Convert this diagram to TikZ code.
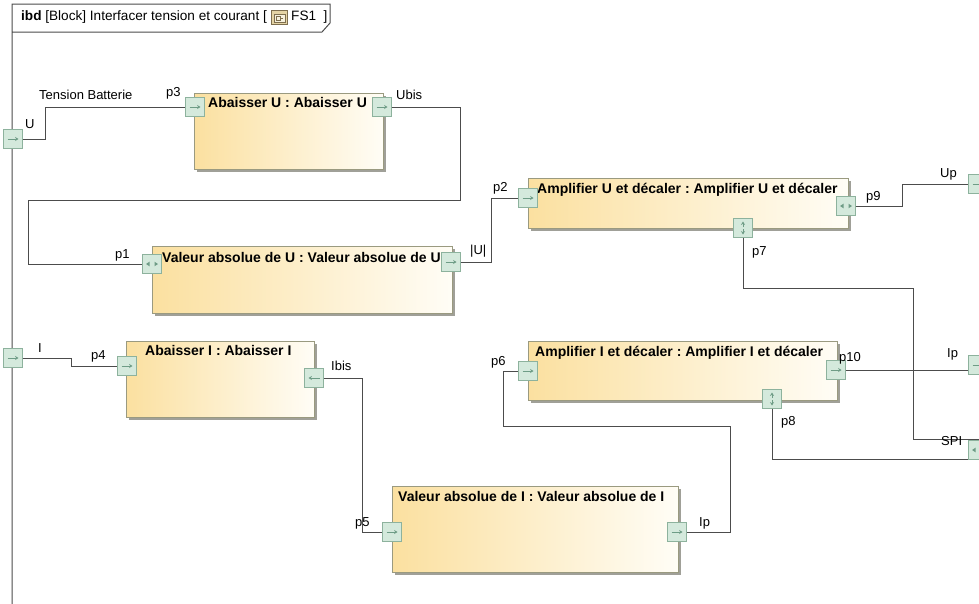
\documentclass[tikz,border=0pt]{standalone}
\usepackage{fontspec}
\setmainfont{Liberation Sans}
\usetikzlibrary{shadows,arrows.meta}
\frenchspacing

\definecolor{wirec}{HTML}{4C4C4C}
\definecolor{blockedge}{HTML}{9A9A80}
\definecolor{blockL}{HTML}{FBE0A0}
\definecolor{blockR}{HTML}{FFFDF6}
\definecolor{shadowc}{HTML}{A0A098}
\definecolor{portfill}{HTML}{D4E9DC}
\definecolor{portedge}{HTML}{8DB29D}
\definecolor{arrowc}{HTML}{6E9C86}
\definecolor{iconout}{HTML}{E4D3A4}
\definecolor{iconin}{HTML}{F6F0DC}
\definecolor{iconln}{HTML}{7E6E4E}

\begin{document}
\begin{tikzpicture}[x=1pt,y=-1pt,
  wire/.style={draw=wirec, line width=1pt},
  framec/.style={draw=wirec, line width=1pt},
  block/.style={draw=blockedge, line width=0.8pt, left color=blockL, right color=blockR,
    drop shadow={shadow xshift=2.5pt, shadow yshift=-2.5pt, fill=shadowc, opacity=1},
    anchor=north west, inner sep=0pt},
  title/.style={font=\fontsize{14}{16}\selectfont\bfseries, inner sep=0pt, anchor=base west},
  lbl/.style={font=\fontsize{13}{15}\selectfont, inner sep=0pt, anchor=base west},
  port/.style={draw=portedge, fill=portfill, line width=0.7pt, minimum size=18.5pt, inner sep=0pt},
  tipa/.style={-{Stealth[length=3.4pt,width=4pt]}, draw=arrowc, line width=0.8pt},
  pr/.style={port, path picture={
    \draw[tipa] ([xshift=-5.5pt]path picture bounding box.center) -- ([xshift=5.5pt]path picture bounding box.center);}},
  pl/.style={port, path picture={
    \draw[tipa] ([xshift=5.5pt]path picture bounding box.center) -- ([xshift=-5.5pt]path picture bounding box.center);}},
  pb/.style={port, path picture={
    \fill[arrowc] ([xshift=-6pt]path picture bounding box.center) -- ([xshift=-2.5pt,yshift=2.3pt]path picture bounding box.center) -- ([xshift=-2.5pt,yshift=-2.3pt]path picture bounding box.center) -- cycle;
    \fill[arrowc] ([xshift=6pt]path picture bounding box.center) -- ([xshift=2.5pt,yshift=2.3pt]path picture bounding box.center) -- ([xshift=2.5pt,yshift=-2.3pt]path picture bounding box.center) -- cycle;}},
  pv/.style={port, path picture={
    \draw[tipa] ([yshift=1pt]path picture bounding box.center) -- ([yshift=6.5pt]path picture bounding box.center);
    \draw[tipa] ([yshift=-1pt]path picture bounding box.center) -- ([yshift=-6.5pt]path picture bounding box.center);}}
]
\useasboundingbox (0,0) rectangle (979,603);
\clip (0,0) rectangle (979,603);
\fill[white] (0,0) rectangle (979,603);

% diagram frame and its heading tab
\draw[framec] (12,606) -- (12,4) -- (330,4) -- (330,23) -- (322,32) -- (12,32);
\node[lbl, font=\fontsize{13.6}{15}\selectfont] (hdr) at (21,20) {\textbf{ibd} [Block] Interfacer tension et courant [};
\filldraw[fill=iconout, draw=iconln, line width=0.6pt] (271,10) rectangle (287,24);
\filldraw[fill=iconin, draw=iconln, line width=0.5pt] (274,14) rectangle (285,22);
\draw[iconln, line width=0.5pt] (276,16) rectangle (280,20) (280,18) -- (283,18);
\node[lbl, font=\fontsize{13.6}{15}\selectfont] (hdrb) at (291,20) {FS1\ \ ]};

% blocks
\node[block, minimum width=189pt, minimum height=76pt] (AbU) at (194,93) {};
\node[block, minimum width=300pt, minimum height=67pt] (VaU) at (152,246) {};
\node[block, minimum width=320pt, minimum height=50pt] (AmU) at (528,178) {};
\node[block, minimum width=309pt, minimum height=59pt] (AmI) at (528,341) {};
\node[block, minimum width=188pt, minimum height=76pt] (AbI) at (126,341) {};
\node[block, minimum width=286pt, minimum height=86pt] (VaI) at (392,486) {};

% block titles
\node[title] (tAbU) at (208,107) {Abaisser U : Abaisser U};
\node[title] (tVaU) at (162,262) {Valeur absolue de U : Valeur absolue de U};
\node[title] (tAmU) at (537,193) {Amplifier U et décaler : Amplifier U et décaler};
\node[title] (tAmI) at (535,356) {Amplifier I et décaler : Amplifier I et décaler};
\node[title] (tAbI) at (145,355) {Abaisser I : Abaisser I};
\node[title] (tVaI) at (398,501) {Valeur absolue de I : Valeur absolue de I};

% ports
\node[pr] (pU) at (13,139) {};
\node[pr] (pI) at (13,358) {};
\node[pr] (p3) at (195,107) {};
\node[pr] (pUbis) at (382,107) {};
\node[pb] (p1) at (152,264) {};
\node[pr] (pAbsU) at (451,262) {};
\node[pr] (p2) at (528,198) {};
\node[pb] (p9) at (846,206) {};
\node[pv] (p7) at (743,228) {};
\node[pr] (pUp) at (978,184) {};
\node[pr] (p6) at (528,371) {};
\node[pr] (p10) at (836,370) {};
\node[pv] (p8) at (772,399) {};
\node[pr] (pIp) at (978,365) {};
\node[pb] (pSPI) at (978,450) {};
\node[pr] (p4) at (127,366) {};
\node[pl] (pIbis) at (314,378) {};
\node[pr] (p5) at (392,532) {};
\node[pr] (pIp2) at (677,532) {};

% connectors between ports
\draw[wire] (pU.east) -- (45,139) -- (45,107) -- (p3.west);
\draw[wire] (pUbis.east) -- (460,107) -- (460,200) -- (28,200) -- (28,264) -- (p1.west);
\draw[wire] (pAbsU.east) -- (491,262) -- (491,198) -- (p2.west);
\draw[wire] (p9.east) -- (902,206) -- (902,184) -- (pUp.west);
\draw[wire] (p7.south) -- (743,288) -- (913,288) -- (913,439) -| (pSPI.north);
\draw[wire] (p10.east) -- (p10.east -| pIp.west);
\draw[wire] (p8.south) |- (pSPI.south west);
\draw[wire] (pI.east) -- (71,358) -- (71,366) -- (p4.west);
\draw[wire] (pIbis.east) -- (362,378) -- (362,532) -- (p5.west);
\draw[wire] (pIp2.east) -- (730,532) -- (730,426) -- (503,426) -- (503,371) -- (p6.west);

% port and flow labels
\node[lbl] (lU) at (25,128) {U};
\node[lbl] (lTB) at (39,99) {Tension Batterie};
\node[lbl] (l3) at (166,96) {p3};
\node[lbl] (lUbis) at (396,99) {Ubis};
\node[lbl] (l1) at (115,258) {p1};
\node[lbl] (lAbsU) at (470,254) {|U|};
\node[lbl] (l2) at (493,191) {p2};
\node[lbl] (l9) at (866,200) {p9};
\node[lbl] (lUp) at (940,177) {Up};
\node[lbl] (l7) at (752,255) {p7};
\node[lbl] (l6) at (491,365) {p6};
\node[lbl] (l10) at (839,361) {p10};
\node[lbl] (lIp) at (947,357) {Ip};
\node[lbl] (l8) at (781,425) {p8};
\node[lbl] (lSPI) at (941,445) {SPI};
\node[lbl] (lI) at (38,352) {I};
\node[lbl] (l4) at (91,359) {p4};
\node[lbl] (lIbis) at (331,370) {Ibis};
\node[lbl] (l5) at (355,526) {p5};
\node[lbl] (lIp2) at (699,526) {Ip};
\end{tikzpicture}
\end{document}
